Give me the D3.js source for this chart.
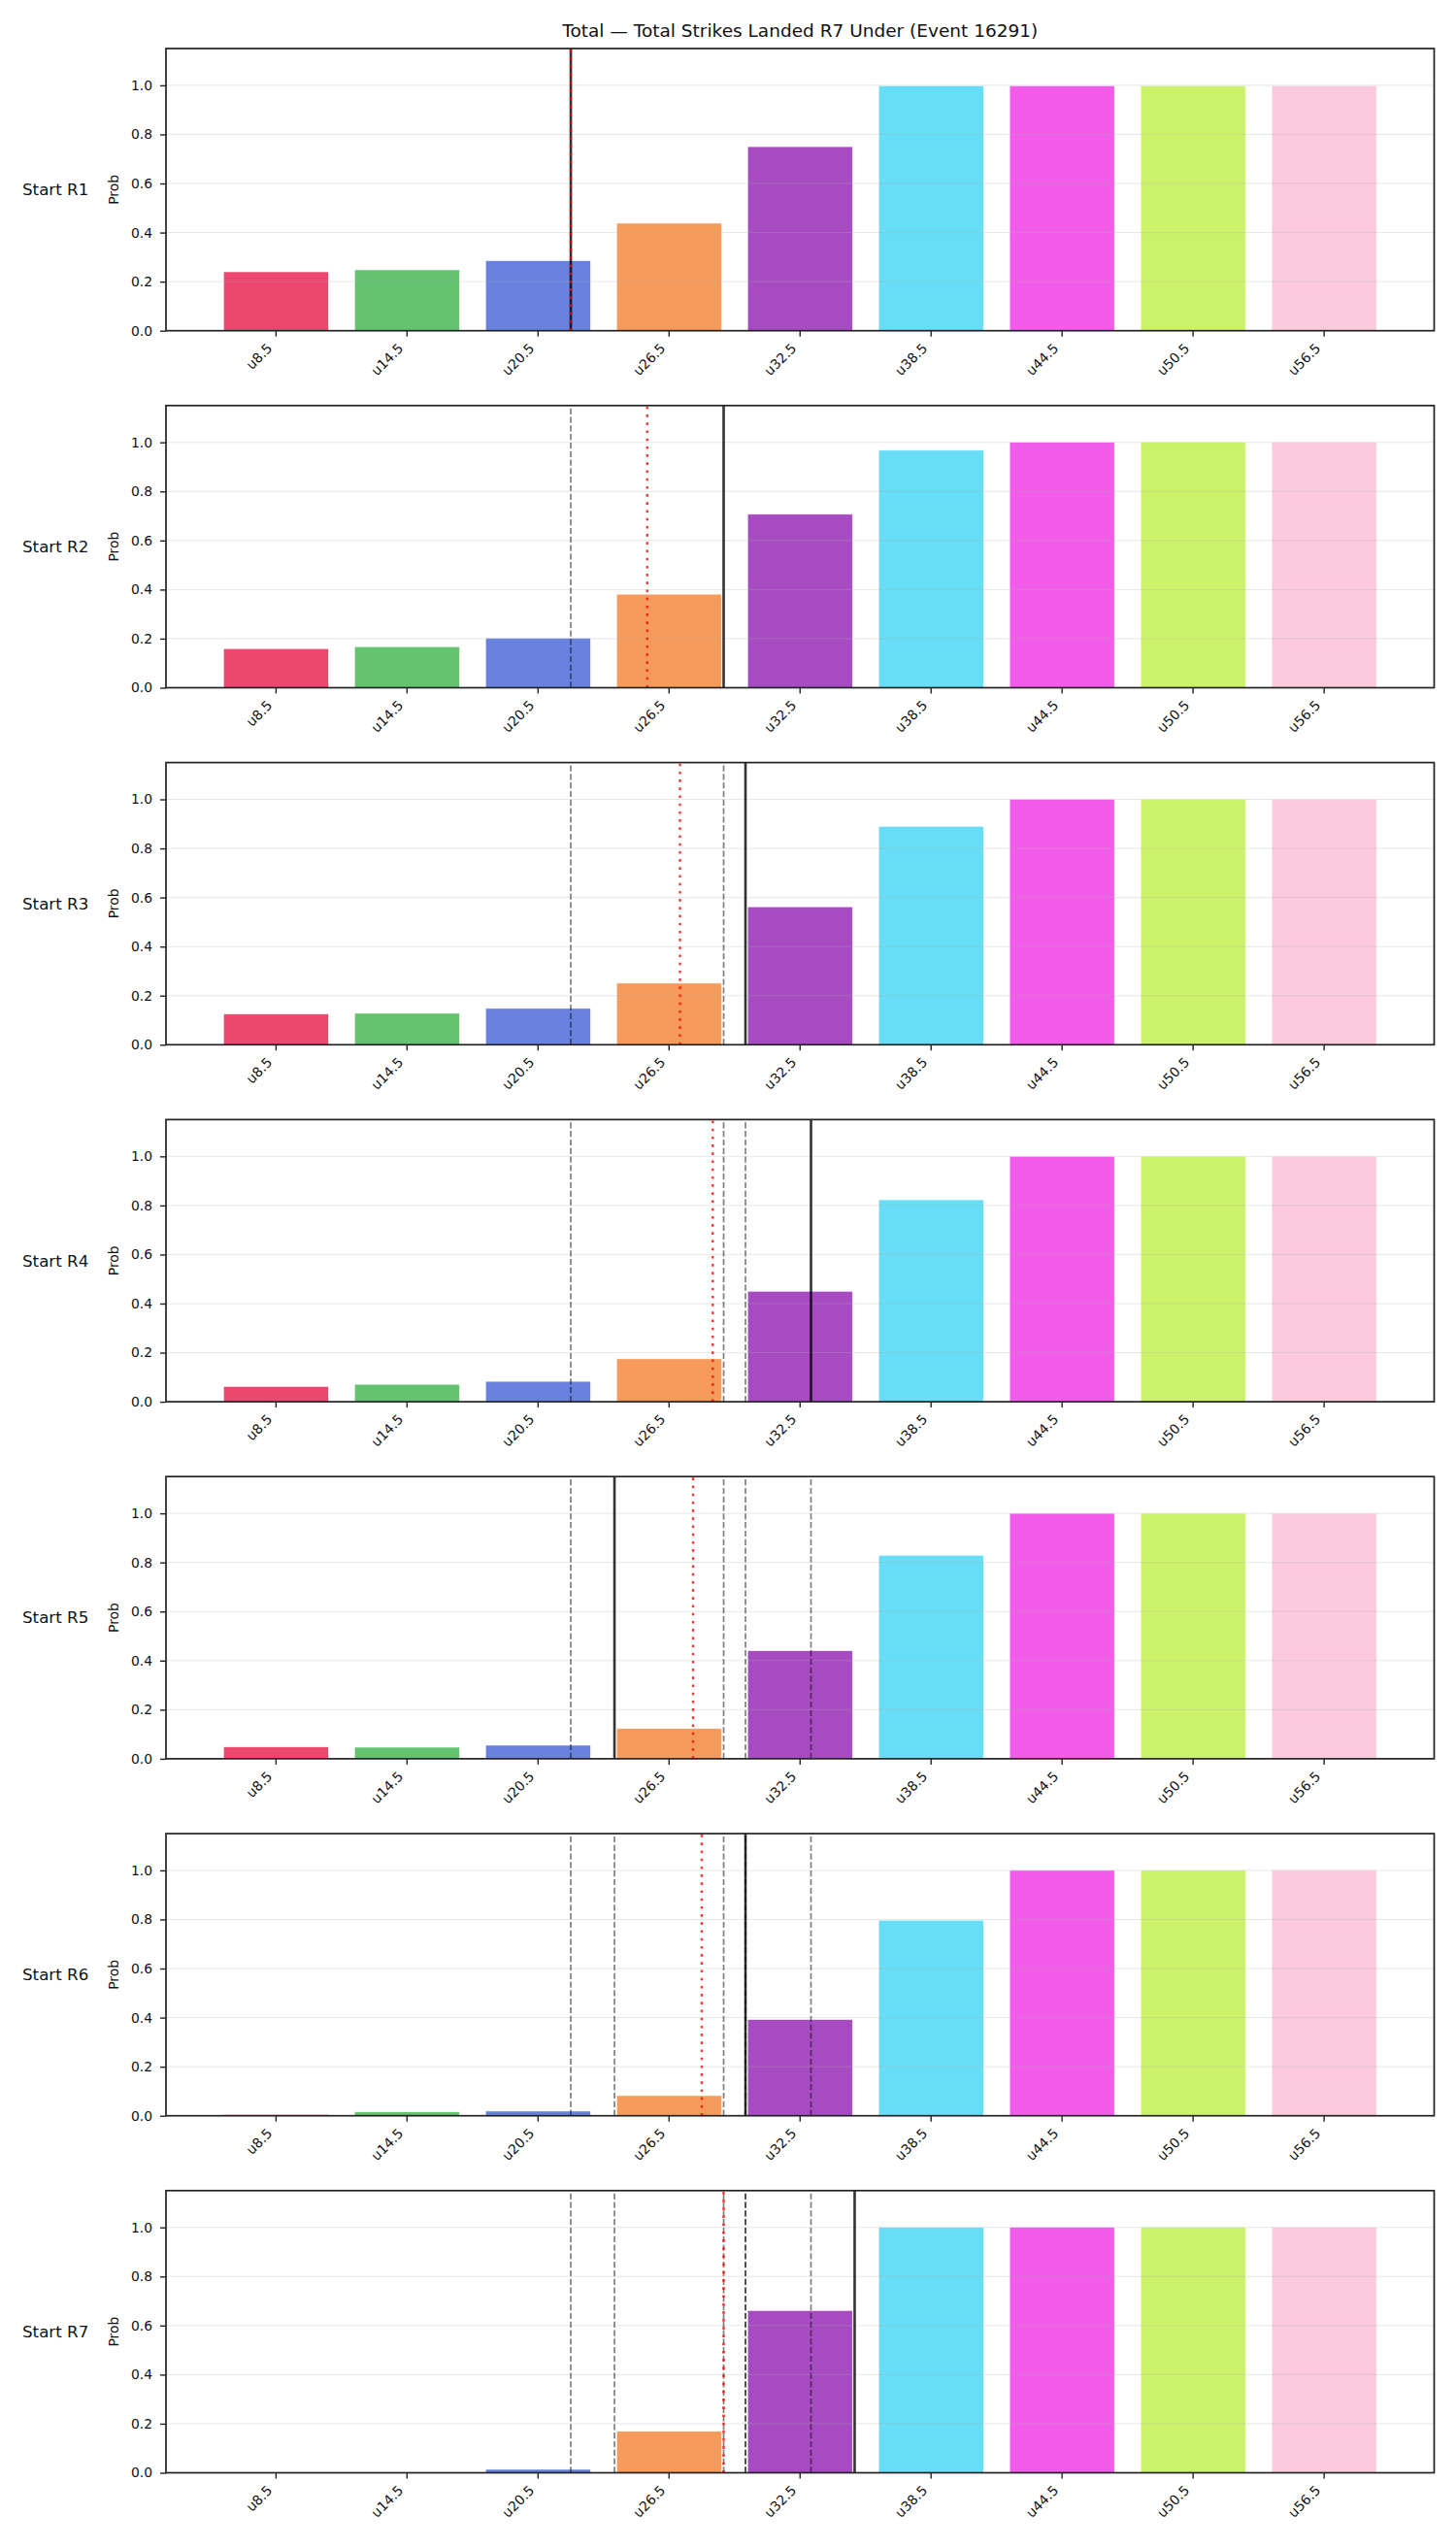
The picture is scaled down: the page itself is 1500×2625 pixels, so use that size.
<!DOCTYPE html>
<html>
<head>
<meta charset="utf-8">
<script src="https://cdn.jsdelivr.net/npm/d3@7"></script>
<style>
  body{margin:0;background:#fff;}
  svg{display:block;font-family:"DejaVu Sans",sans-serif;}
</style>
</head>
<body>
<svg id="chart" width="1500" height="2625"></svg>
<script>
// ---- data ----
var TITLE='Total \u2014 Total Strikes Landed R7 Under (Event 16291)';
var cats=['u8.5','u14.5','u20.5','u26.5','u32.5','u38.5','u44.5','u50.5','u56.5'];
var lines=[8.5,14.5,20.5,26.5,32.5,38.5,44.5,50.5,56.5];
var rounds=['Start R1','Start R2','Start R3','Start R4','Start R5','Start R6','Start R7'];
var probR1=[0.240,0.248,0.285,0.438,0.750,0.998,0.998,0.998,0.998];
var probR2=[0.159,0.167,0.202,0.381,0.707,0.968,1.0,1.0,1.0];
var probR3=[0.125,0.128,0.148,0.251,0.562,0.890,1.0,1.0,1.0];
var probR4=[0.062,0.071,0.083,0.175,0.450,0.823,1.0,1.0,1.0];
var probR5=[0.048,0.047,0.055,0.123,0.440,0.829,1.0,1.0,1.0];
var probR6=[0.005,0.016,0.019,0.082,0.392,0.797,1.0,1.0,1.0];
var probR7=[0.0,0.0,0.014,0.169,0.661,1.0,1.0,1.0,1.0];
var probs=[probR1,probR2,probR3,probR4,probR5,probR6,probR7];
var actual=[22,29,30,33,24,30,35];          // solid black line per round
var runAvg=[22,25.5,27,28.5,27.6,28,29];    // red dotted line per round
var yTicks=[0,0.2,0.4,0.6,0.8,1.0];
var colors=['#e6194B','#3cb44b','#4363d8','#f58231','#911eb4','#42d4f4','#f032e6','#bfef45','#fabed4'];

// ---- layout ----
var svg=d3.select('#chart');
var axL=171, axR=1477.5, top0=50, pitch=367.8, ph=290.7;
var FS=13.9;

var x=d3.scaleBand().domain(cats).range([axL,axR]).paddingInner(0.2).paddingOuter(0.44);
// continuous strike-count scale aligned with the category centres
var xv=d3.scaleLinear()
  .domain([lines[0],lines[lines.length-1]])
  .range([x(cats[0])+x.bandwidth()/2, x(cats[cats.length-1])+x.bandwidth()/2]);

svg.append('text').attr('x',(axL+axR)/2).attr('y',38).attr('text-anchor','middle')
  .attr('font-size','18.5px').attr('fill','#111').text(TITLE);

rounds.forEach(function(rn,ri){
  var t=top0+ri*pitch, b=t+ph;
  var y=d3.scaleLinear().domain([0,1.15]).range([b,t]);
  var g=svg.append('g');

  // bars
  g.selectAll('rect.bar').data(probs[ri]).enter().append('rect')
    .attr('x',function(d,i){return x(cats[i]);})
    .attr('width',x.bandwidth())
    .attr('y',function(d){return y(d);})
    .attr('height',function(d){return b-y(d);})
    .attr('fill',function(d,i){return colors[i];})
    .attr('fill-opacity',0.8)
    .attr('stroke','#fff').attr('stroke-opacity',0.8).attr('stroke-width',0.6);

  // grid
  g.selectAll('line.grid').data(yTicks.slice(1)).enter().append('line')
    .attr('x1',axL).attr('x2',axR)
    .attr('y1',function(d){return y(d);}).attr('y2',function(d){return y(d);})
    .attr('stroke','#b0b0b0').attr('stroke-opacity',0.3).attr('stroke-width',1);

  // previous rounds (dashed)
  g.selectAll('line.prev').data(actual.slice(0,ri)).enter().append('line')
    .attr('x1',function(d){return xv(d);}).attr('x2',function(d){return xv(d);})
    .attr('y1',b).attr('y2',t)
    .attr('stroke','#000').attr('stroke-opacity',0.5).attr('stroke-width',1.7)
    .attr('stroke-dasharray','6.2,2.6');

  // current round (solid)
  g.append('line').attr('x1',xv(actual[ri])).attr('x2',xv(actual[ri]))
    .attr('y1',b).attr('y2',t)
    .attr('stroke','#000').attr('stroke-opacity',0.8).attr('stroke-width',2.6);

  // running average (red dotted)
  g.append('line').attr('x1',xv(runAvg[ri])).attr('x2',xv(runAvg[ri]))
    .attr('y1',b).attr('y2',t)
    .attr('stroke','#ff0000').attr('stroke-opacity',0.8).attr('stroke-width',2.4)
    .attr('stroke-dasharray','2.6,5.6');

  // axes
  var ya=g.append('g').attr('transform','translate('+axL+',0)')
    .call(d3.axisLeft(y).tickValues(yTicks).tickFormat(d3.format('.1f')).tickSize(6).tickPadding(8));
  var xa=g.append('g').attr('transform','translate(0,'+b+')')
    .call(d3.axisBottom(x).tickSize(6).tickPadding(4));
  [ya,xa].forEach(function(a){
    a.select('.domain').remove();
    a.selectAll('line').attr('stroke','#222').attr('stroke-width',1.4);
    a.selectAll('text').attr('font-size',FS+'px').attr('fill','#111').attr('font-family','DejaVu Sans,sans-serif');
  });
  xa.selectAll('text')
    .attr('text-anchor','end')
    .attr('dy',null)
    .attr('transform','translate(-3,19) rotate(-45)')
    .attr('y',0).attr('x',0);

  // frame
  g.append('rect').attr('x',axL).attr('y',t).attr('width',axR-axL).attr('height',ph)
    .attr('fill','none').attr('stroke','#222').attr('stroke-width',1.7);

  // labels
  g.append('text').attr('transform','translate(117,'+(t+ph/2)+') rotate(-90)')
    .attr('text-anchor','middle').attr('dy','0.35em')
    .attr('font-size',FS+'px').attr('fill','#111').text('Prob');
  g.append('text').attr('x',23).attr('y',t+ph/2).attr('dy','0.35em')
    .attr('font-size','16.7px').attr('fill','#111').text(rn);
});
</script>
</body>
</html>
